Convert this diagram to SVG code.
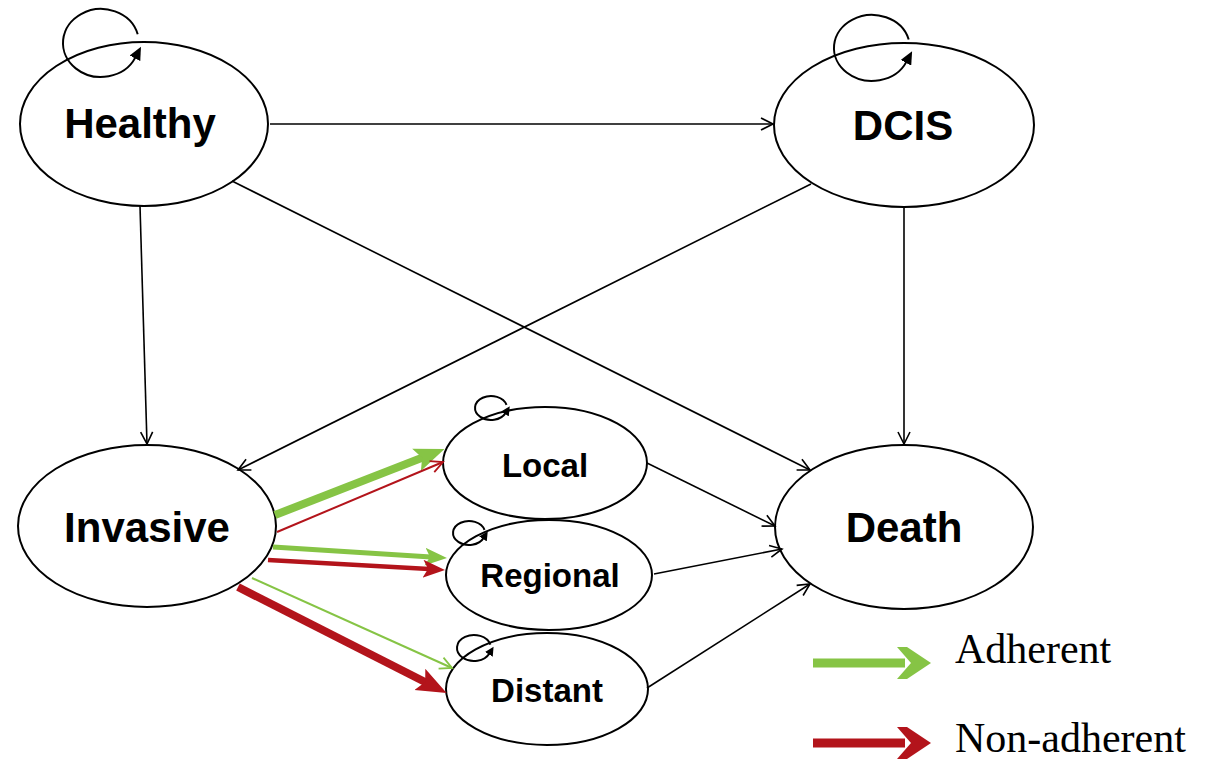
<svg xmlns="http://www.w3.org/2000/svg" width="1206" height="763" viewBox="0 0 1206 763">
<style>
.node{fill:#fff;stroke:#000;stroke-width:2}
.lbl{font-family:"Liberation Sans",Arial,sans-serif;font-weight:bold;fill:#000;text-anchor:middle}
.big{font-size:42px}
.small{font-size:33px}
.edge{stroke:#000;stroke-width:1.6;fill:none;marker-end:url(#open)}
.loop{stroke:#000;stroke-width:2;fill:none}
.legend{font-family:"Liberation Serif","Times New Roman",serif;font-size:42px;fill:#000}
</style>
<defs>
<marker id="open" markerUnits="userSpaceOnUse" markerWidth="16" markerHeight="16" viewBox="-2 -2 16 16" refX="12" refY="6" orient="auto">
<path d="M0,0 L12,6 L0,12" fill="none" stroke="#000" stroke-width="1.6"/>
</marker>
<marker id="loopBig" markerUnits="userSpaceOnUse" markerWidth="14" markerHeight="12" viewBox="0 0 14 12" refX="1" refY="6" orient="auto">
<path d="M0,0 L13,6 L0,12 z" fill="#000"/>
</marker>
<marker id="loopSmall" markerUnits="userSpaceOnUse" markerWidth="10" markerHeight="9" viewBox="0 0 10 9" refX="1" refY="4.5" orient="auto">
<path d="M0,0 L9,4.5 L0,9 z" fill="#000"/>
</marker>
<marker id="gBig" markerUnits="userSpaceOnUse" markerWidth="32" markerHeight="28" viewBox="0 0 32 28" refX="8" refY="14" orient="auto">
<path d="M0,2 L30,14 L0,26 L6,14 z" fill="#86c445"/>
</marker>
<marker id="rBig" markerUnits="userSpaceOnUse" markerWidth="32" markerHeight="28" viewBox="0 0 32 28" refX="8" refY="14" orient="auto">
<path d="M0,2 L30,14 L0,26 L6,14 z" fill="#b3141b"/>
</marker>
<marker id="gMid" markerUnits="userSpaceOnUse" markerWidth="24" markerHeight="20" viewBox="0 0 24 20" refX="6" refY="10" orient="auto">
<path d="M0,1 L22,10 L0,19 L5,10 z" fill="#86c445"/>
</marker>
<marker id="rMid" markerUnits="userSpaceOnUse" markerWidth="24" markerHeight="20" viewBox="0 0 24 20" refX="6" refY="10" orient="auto">
<path d="M0,1 L22,10 L0,19 L5,10 z" fill="#b3141b"/>
</marker>
<marker id="gOpen" markerUnits="userSpaceOnUse" markerWidth="16" markerHeight="16" viewBox="-2 -2 16 16" refX="12" refY="6" orient="auto">
<path d="M0,0 L12,6 L0,12" fill="none" stroke="#86c445" stroke-width="1.8"/>
</marker>
<marker id="rOpen" markerUnits="userSpaceOnUse" markerWidth="16" markerHeight="16" viewBox="-2 -2 16 16" refX="12" refY="6" orient="auto">
<path d="M0,0 L12,6 L0,12" fill="none" stroke="#b3141b" stroke-width="1.8"/>
</marker>
<marker id="gLeg" markerUnits="userSpaceOnUse" markerWidth="36" markerHeight="36" viewBox="0 0 36 36" refX="8" refY="18" orient="auto">
<path d="M0,2 L10,2 L34,18 L10,34 L0,34 L14,18 z" fill="#86c445"/>
</marker>
<marker id="rLeg" markerUnits="userSpaceOnUse" markerWidth="36" markerHeight="36" viewBox="0 0 36 36" refX="8" refY="18" orient="auto">
<path d="M0,2 L10,2 L34,18 L10,34 L0,34 L14,18 z" fill="#b3141b"/>
</marker>
</defs>

<g id="healthy"><ellipse class="node" cx="144" cy="124" rx="124" ry="82"/><text class="lbl big" x="140" y="138">Healthy</text></g>
<g id="dcis"><ellipse class="node" cx="904" cy="125" rx="130" ry="82"/><text class="lbl big" x="903" y="140">DCIS</text></g>
<g id="invasive"><ellipse class="node" cx="147" cy="526" rx="129" ry="81"/><text class="lbl big" x="147" y="542">Invasive</text></g>
<g id="death"><ellipse class="node" cx="904" cy="527" rx="129" ry="82"/><text class="lbl big" x="904" y="542">Death</text></g>
<g id="local"><ellipse class="node" cx="545" cy="463" rx="102" ry="56"/><text class="lbl small" x="545" y="477">Local</text></g>
<g id="regional"><ellipse class="node" cx="549" cy="575" rx="103" ry="55"/><text class="lbl small" x="550" y="587">Regional</text></g>
<g id="distant"><ellipse class="node" cx="547" cy="689" rx="101" ry="56"/><text class="lbl small" x="547" y="702">Distant</text></g>

<g id="connectors">
<line class="edge" x1="270" y1="124" x2="773" y2="124"/>
<line class="edge" x1="140" y1="206" x2="147" y2="444"/>
<line class="edge" x1="232" y1="181" x2="810" y2="470"/>
<line class="edge" x1="811" y1="184" x2="238" y2="470"/>
<line class="edge" x1="904" y1="206" x2="904" y2="444"/>
<line class="edge" x1="647" y1="463" x2="775" y2="526"/>
<line class="edge" x1="654" y1="574" x2="782" y2="549"/>
<line class="edge" x1="647" y1="688" x2="810" y2="584"/>

<line x1="275" y1="515" x2="424" y2="457" stroke="#86c445" stroke-width="8" marker-end="url(#gBig)"/>
<line x1="277" y1="532" x2="443" y2="462" stroke="#b3141b" stroke-width="2" marker-end="url(#rOpen)"/>
<line x1="273" y1="547" x2="431" y2="557" stroke="#86c445" stroke-width="5" marker-end="url(#gMid)"/>
<line x1="268" y1="560" x2="429" y2="569" stroke="#b3141b" stroke-width="4.5" marker-end="url(#rMid)"/>
<line x1="252" y1="578" x2="452" y2="668" stroke="#86c445" stroke-width="2" marker-end="url(#gOpen)"/>
<line x1="238" y1="587" x2="427" y2="683" stroke="#b3141b" stroke-width="8" marker-end="url(#rBig)"/>

<path class="loop" d="M137.7,34.2 A38,34 0 1 0 135.4,57.4" marker-end="url(#loopBig)"/>
<path class="loop" d="M908.7,39.5 A38,33 0 1 0 906.4,61.9" marker-end="url(#loopBig)"/>
<path class="loop" d="M506.5,404.9 A16,12 0 1 0 505.5,413.1" marker-end="url(#loopSmall)"/>
<path class="loop" d="M484.5,529.9 A16,12 0 1 0 483.5,538.1" marker-end="url(#loopSmall)"/>
<path class="loop" d="M490.4,644.6 A17,13 0 1 0 489.4,653.5" marker-end="url(#loopSmall)"/>

<line x1="813" y1="663" x2="905" y2="663" stroke="#86c445" stroke-width="9" marker-end="url(#gLeg)"/>
<line x1="813" y1="743" x2="905" y2="743" stroke="#b3141b" stroke-width="9" marker-end="url(#rLeg)"/>
</g>

<g id="legend">
<text class="legend" x="955" y="663">Adherent</text>
<text class="legend" x="955" y="752">Non-adherent</text>
</g>
</svg>
